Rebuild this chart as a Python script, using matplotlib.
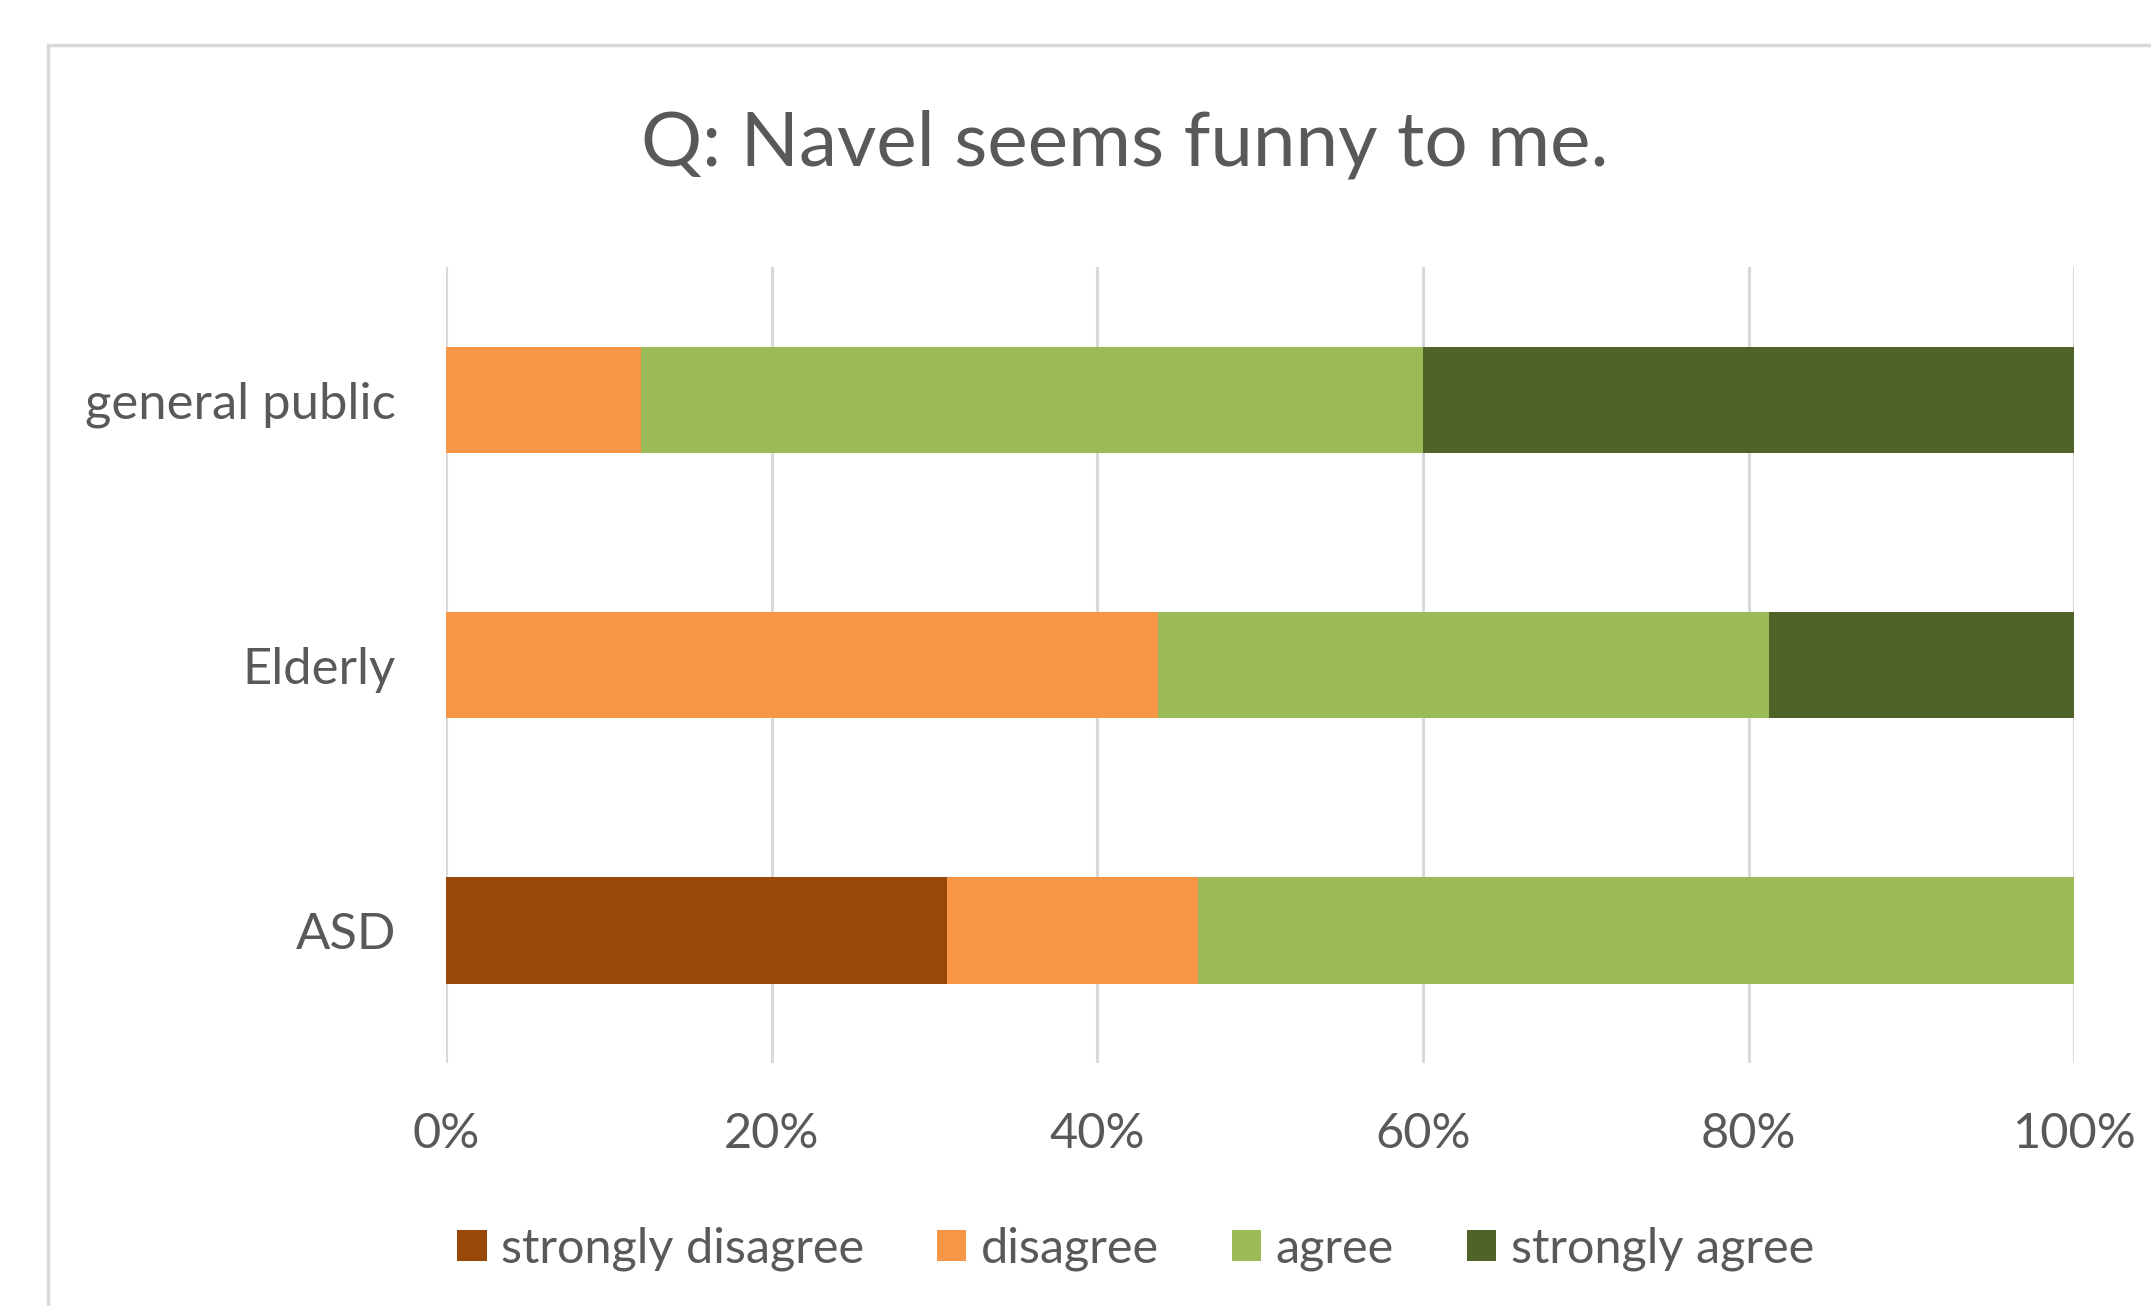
import matplotlib.pyplot as plt
from matplotlib.patches import Rectangle
from matplotlib.ticker import PercentFormatter
import numpy as np

plt.rcParams['font.family'] = ['Lato', 'DejaVu Sans']

groups = ['ASD', 'Elderly', 'general public']
answers = ['strongly disagree', 'disagree', 'agree', 'strongly agree']
colors = ['#984807', '#F79646', '#9BBB59', '#4F6228']

# share of answers per group (fractions)
strongly_disagree = [4/13, 0.0, 0.0]
disagree = [2/13, 7/16, 3/25]
agree = [7/13, 6/16, 12/25]
strongly_agree = [0.0, 3/16, 10/25]
shares = [strongly_disagree, disagree, agree, strongly_agree]

txt = '#595959'
grid_c = '#d9d9d9'

fig = plt.figure(figsize=(21.51, 13.06), dpi=100)
ax = fig.add_axes([0.2073, 0.186, 0.7571, 0.6092])

y = np.arange(len(groups))
left = np.zeros(len(groups))
for name, vals, c in zip(answers, shares, colors):
    ax.barh(y, vals, left=left, height=0.4, color=c, label=name, zorder=3)
    left += np.array(vals)

ax.set_xlim(0, 1)
ax.set_ylim(-0.5, 2.5)
ax.set_xticks(np.arange(0, 1.01, 0.2))
ax.xaxis.set_major_formatter(PercentFormatter(1.0, decimals=0))
ax.set_yticks(y)
ax.set_yticklabels(groups)
ax.tick_params(axis='x', length=0, pad=35, labelsize=35, labelcolor=txt)
ax.tick_params(axis='y', length=0, pad=36, labelsize=36.5, labelcolor=txt)
ax.grid(axis='x', color=grid_c, linewidth=2.2, zorder=0)
for s in ax.spines.values():
    s.set_visible(False)

fig.text(0.523, 1 - 144/1306, 'Q: Navel seems funny to me.', ha='center', va='center',
         fontsize=55, color=txt)

fig.legend(loc='center', bbox_to_anchor=(0.528, 1 - 1249/1306), ncol=4, frameon=False,
           fontsize=35, labelcolor=txt, handlelength=0.6, handleheight=0.6,
           handletextpad=0.3, columnspacing=1.5)

fig.patches.append(Rectangle((48/2151, -0.1), 1.2, 1.1 - 45/1306, transform=fig.transFigure,
                             fill=False, edgecolor=grid_c, linewidth=2.5))

fig.savefig('out.png')
